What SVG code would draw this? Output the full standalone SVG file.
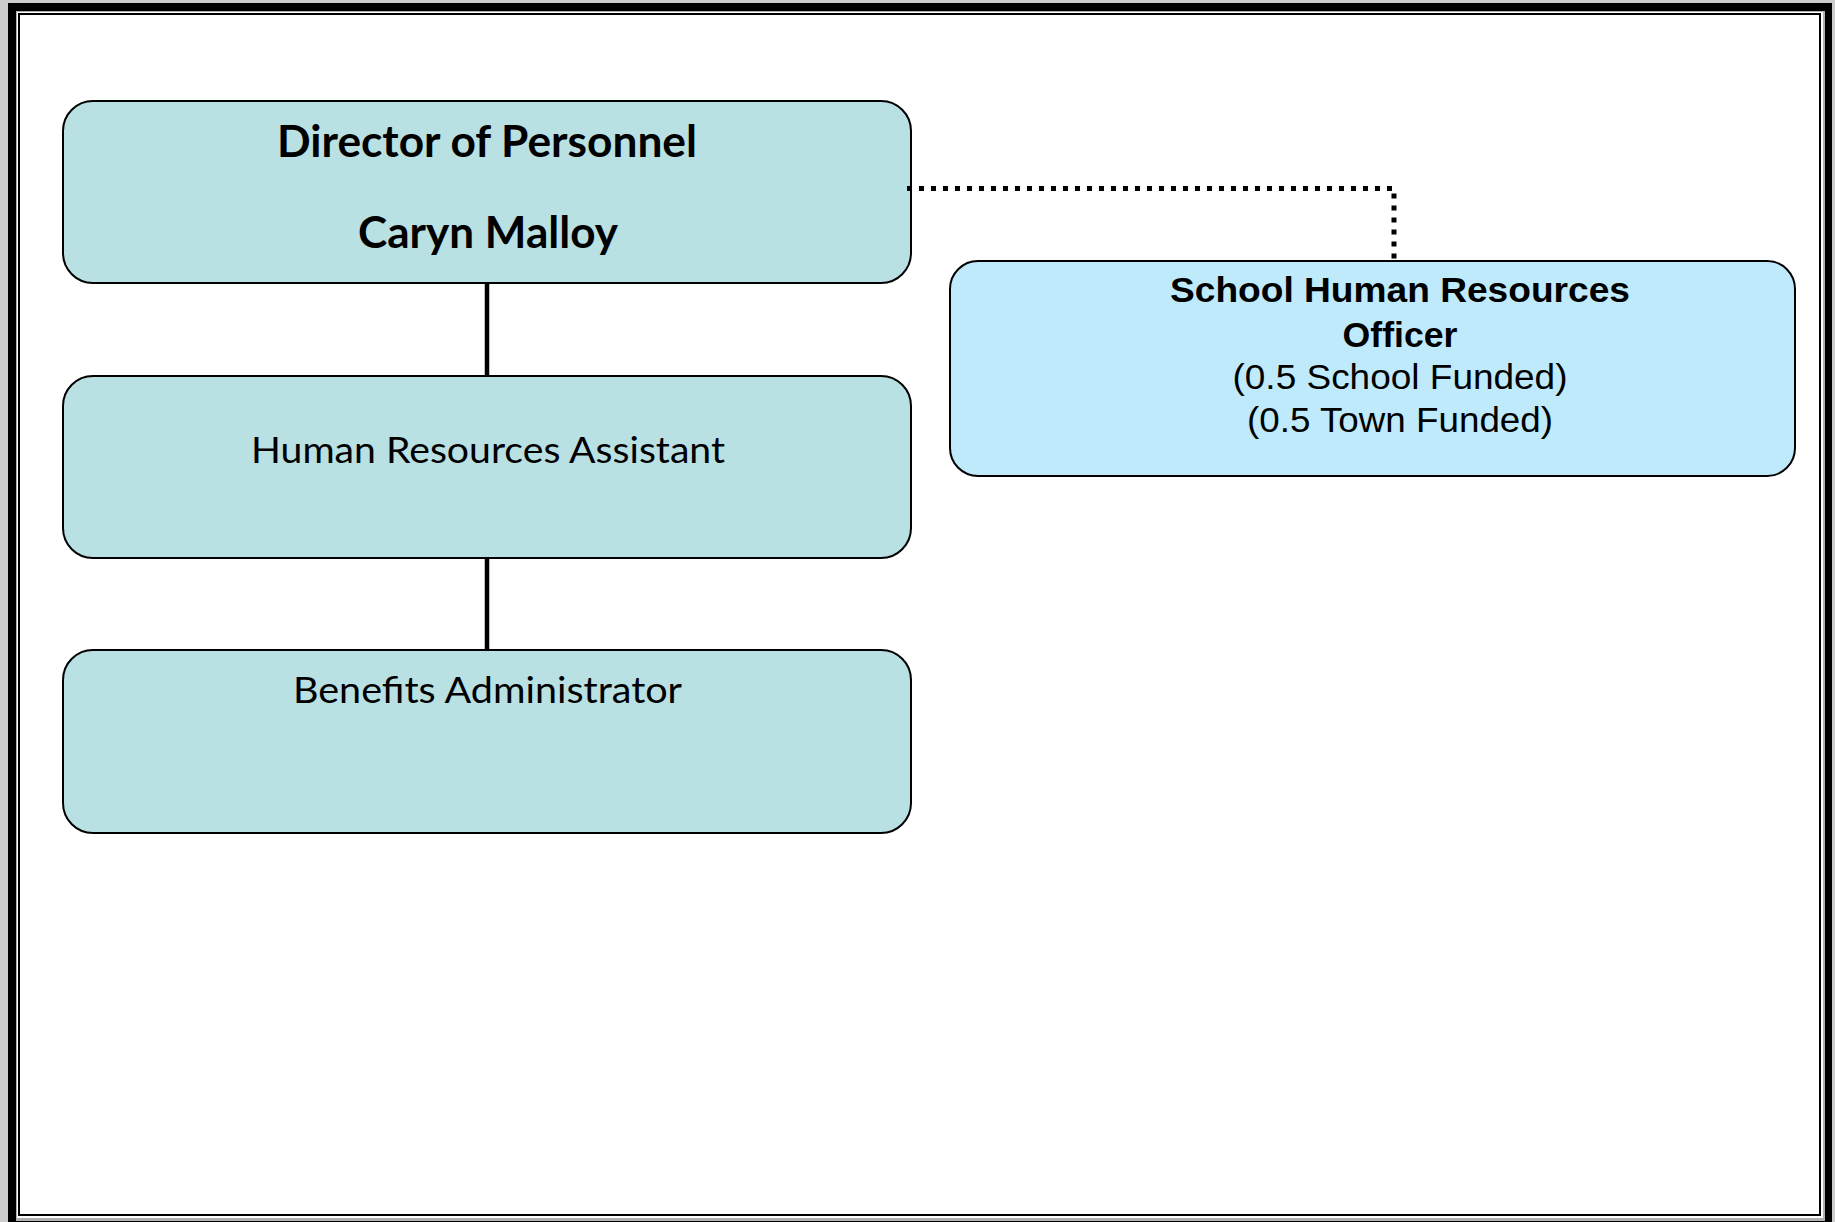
<svg xmlns="http://www.w3.org/2000/svg" width="1835" height="1222" viewBox="0 0 1835 1222">
  <style>
    .teal { fill: #b9e0e3; stroke: #000; stroke-width: 2; }
    .blue { fill: #bfeafb; stroke: #000; stroke-width: 2; }
    .cal { font-family: Lato, "Open Sans", "Liberation Sans", sans-serif; fill: #000; text-anchor: middle; }
    .calb { font-family: Lato, "Open Sans", "Liberation Sans", sans-serif; font-weight: bold; fill: #000; text-anchor: middle; }
    .ar { font-family: "Liberation Sans", Arial, sans-serif; fill: #000; text-anchor: middle; }
    .arb { font-family: "Liberation Sans", Arial, sans-serif; font-weight: bold; fill: #000; text-anchor: middle; }
    .solid { stroke: #000; stroke-width: 4.5; fill: none; }
    .dotted { stroke: #000; stroke-width: 5; fill: none; stroke-dasharray: 5 7; }
  </style>
  <!-- page frame -->
  <rect x="0" y="0" width="1835" height="1222" fill="#cccccc"/>
  <rect x="8" y="3" width="1824" height="1230" fill="#000"/>
  <rect x="16" y="11" width="1809" height="1210" fill="#b0b0b0"/>
  <rect x="17" y="12" width="1806" height="1206" fill="#fff"/>
  <rect x="19" y="14" width="1801" height="1201" fill="none" stroke="#000" stroke-width="2"/>

  <g id="director">
    <rect class="teal" x="63" y="101" width="848" height="182" rx="30" ry="30"/>
    <text class="calb" x="487" y="157" font-size="43" textLength="420" lengthAdjust="spacingAndGlyphs">Director of Personnel</text>
    <text class="calb" x="488" y="248" font-size="43" textLength="260" lengthAdjust="spacingAndGlyphs">Caryn Malloy</text>
  </g>

  <g id="hr-assistant">
    <rect class="teal" x="63" y="376" width="848" height="182" rx="30" ry="30"/>
    <text class="cal" x="488" y="463" font-size="36" textLength="474" lengthAdjust="spacingAndGlyphs">Human Resources Assistant</text>
  </g>

  <g id="benefits">
    <rect class="teal" x="63" y="650" width="848" height="183" rx="30" ry="30"/>
    <text class="cal" x="487.5" y="703" font-size="36" textLength="389" lengthAdjust="spacingAndGlyphs">Benefits Administrator</text>
  </g>

  <g id="school-hr">
    <rect class="blue" x="950" y="261" width="845" height="215" rx="28" ry="28"/>
    <text class="arb" x="1400" y="302" font-size="35" textLength="460" lengthAdjust="spacingAndGlyphs">School Human Resources</text>
    <text class="arb" x="1400" y="347" font-size="35" textLength="115" lengthAdjust="spacingAndGlyphs">Officer</text>
    <text class="ar" x="1400" y="389" font-size="35" textLength="335" lengthAdjust="spacingAndGlyphs">(0.5 School Funded)</text>
    <text class="ar" x="1400" y="432" font-size="35" textLength="306" lengthAdjust="spacingAndGlyphs">(0.5 Town Funded)</text>
  </g>

  <g id="connectors">
    <line class="solid" x1="487" y1="284" x2="487" y2="375"/>
    <line class="solid" x1="487" y1="559" x2="487" y2="649"/>
    <polyline class="dotted" points="907,188.5 1394,188.5 1394,260"/>
  </g>
</svg>
